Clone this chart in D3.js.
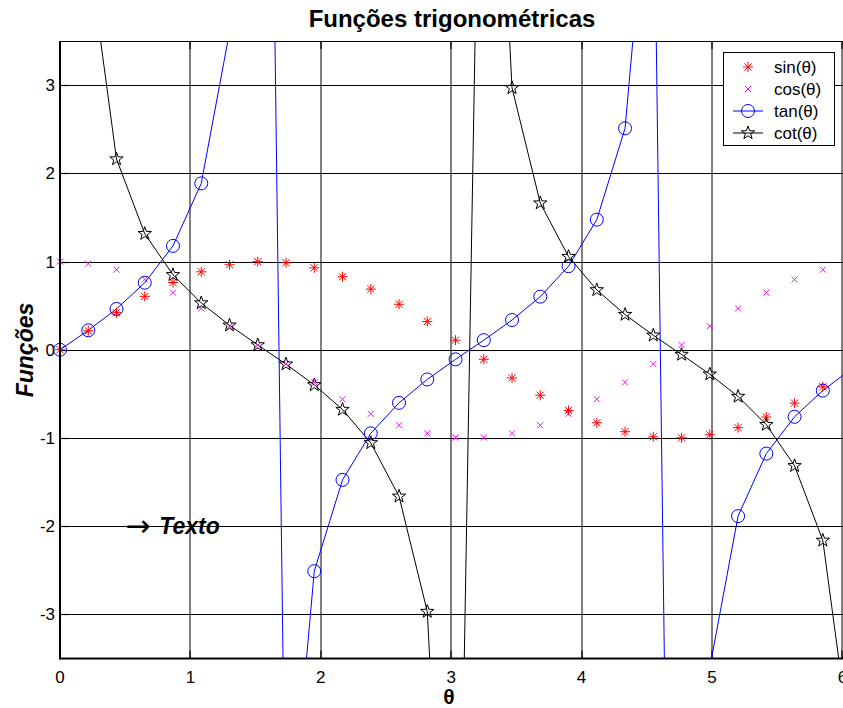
<!DOCTYPE html>
<html>
<head>
<meta charset="utf-8">
<script src="https://cdn.jsdelivr.net/npm/d3@7/dist/d3.min.js"></script>
<style>
  html, body { margin: 0; padding: 0; background: #fff; }
  svg { display: block; font-family: "Liberation Sans", Arial, Helvetica, sans-serif; }
</style>
</head>
<body>
<svg id="chart" width="843" height="708"></svg>
<script>
// Sample angles (30 points over one full turn)
const theta = [0, 0.2167, 0.4333, 0.6500, 0.8666, 1.0833, 1.3000, 1.5166, 1.7333, 1.9500,
  2.1666, 2.3833, 2.5999, 2.8166, 3.0333, 3.2499, 3.4666, 3.6832, 3.8999, 4.1166,
  4.3332, 4.5499, 4.7666, 4.9832, 5.1999, 5.4165, 5.6332, 5.8499, 6.0665, 6.2832];

const sinVals = [0, 0.2150, 0.4199, 0.6052, 0.7622, 0.8835, 0.9635, 0.9985, 0.9868, 0.9290,
  0.8277, 0.6877, 0.5156, 0.3193, 0.1081, -0.1081, -0.3193, -0.5156, -0.6877, -0.8277,
  -0.9290, -0.9868, -0.9985, -0.9635, -0.8835, -0.7622, -0.6052, -0.4199, -0.2150, 0];

const cosVals = [1, 0.9766, 0.9076, 0.7961, 0.6474, 0.4684, 0.2675, 0.0541, -0.1617, -0.3701,
  -0.5612, -0.7260, -0.8569, -0.9477, -0.9941, -0.9941, -0.9477, -0.8569, -0.7260, -0.5612,
  -0.3701, -0.1617, 0.0541, 0.2675, 0.4684, 0.6474, 0.7961, 0.9076, 0.9766, 1];

const tanVals = [0, 0.2201, 0.4627, 0.7602, 1.1773, 1.8861, 3.6021, 18.456, -6.103, -2.510,
  -1.4749, -0.9473, -0.6017, -0.3369, -0.1087, 0.1087, 0.3369, 0.6017, 0.9473, 1.4749,
  2.510, 6.103, -18.456, -3.6021, -1.8861, -1.1773, -0.7602, -0.4627, -0.2201, 0];

// cot(0) is infinite (not drawn); the last value is a very large negative number
const cotVals = [null, 4.5423, 2.1614, 1.3155, 0.8494, 0.5302, 0.2776, 0.0542, -0.1638, -0.3984,
  -0.6780, -1.0557, -1.6620, -2.9680, -9.1960, 9.1960, 2.9680, 1.6620, 1.0557, 0.6780,
  0.3984, 0.1638, -0.0542, -0.2776, -0.5302, -0.8494, -1.3155, -2.1614, -4.5423, -10000];

const xTicks = [0, 1, 2, 3, 4, 5, 6];
const yTicks = [-3, -2, -1, 0, 1, 2, 3];
const legendLabels = ["sin(\u03b8)", "cos(\u03b8)", "tan(\u03b8)", "cot(\u03b8)"];

const svg = d3.select("#chart");

const x = d3.scaleLinear().domain([0, 6]).range([60, 842.4]);
const y = d3.scaleLinear().domain([-3.5, 3.5]).range([658.5, 41]);
const [x0, x1] = [x(0), 845];
const [yTop, yBot] = [y(3.5), y(-3.5)];

svg.append("defs").append("clipPath").attr("id", "plotClip")
  .append("rect").attr("x", x0).attr("y", yTop).attr("width", x1 - x0).attr("height", yBot - yTop);

// Grid
const grid = svg.append("g");
grid.selectAll(".gx").data(xTicks.slice(1)).join("line")
  .attr("x1", d => Math.round(x(d))).attr("x2", d => Math.round(x(d)))
  .attr("y1", yTop).attr("y2", yBot)
  .attr("stroke", "#000").attr("stroke-width", 1);
grid.selectAll(".gy").data(yTicks).join("line")
  .attr("x1", x0).attr("x2", x1)
  .attr("y1", d => Math.round(y(d)) + 0.5).attr("y2", d => Math.round(y(d)) + 0.5)
  .attr("stroke", "#000").attr("stroke-width", 1);

// Tick marks (inward) on bottom, top and left
const ticks = svg.append("g").attr("stroke", "#000").attr("stroke-width", 1.2);
xTicks.forEach(d => {
  ticks.append("line").attr("x1", Math.round(x(d))).attr("x2", Math.round(x(d)))
    .attr("y1", yBot).attr("y2", yBot - 8);
  ticks.append("line").attr("x1", Math.round(x(d))).attr("x2", Math.round(x(d)))
    .attr("y1", yTop).attr("y2", yTop + 8);
});
yTicks.forEach(d => {
  ticks.append("line").attr("x1", x0).attr("x2", x0 + 8)
    .attr("y1", Math.round(y(d)) + 0.5).attr("y2", Math.round(y(d)) + 0.5);
});

// Lines for tan and cot
const lineGen = d3.line()
  .defined(d => d[1] !== null)
  .x(d => x(d[0])).y(d => y(d[1]));

const plot = svg.append("g").attr("clip-path", "url(#plotClip)");
plot.append("path").datum(theta.map((t, i) => [t, tanVals[i]]))
  .attr("d", lineGen).attr("fill", "none").attr("stroke", "#00f").attr("stroke-width", 1);
plot.append("path").datum(theta.map((t, i) => [t, cotVals[i]]))
  .attr("d", lineGen).attr("fill", "none").attr("stroke", "#000").attr("stroke-width", 1);

// Marker shapes
function asteriskPath(r) {
  const a = r * 0.72;
  return `M${-r},0H${r}M0,${-r}V${r}M${-a},${-a}L${a},${a}M${-a},${a}L${a},${-a}`;
}
function crossPath(r) {
  return `M${-r},${-r}L${r},${r}M${-r},${r}L${r},${-r}`;
}
function starPath(R) {
  const r = R * 0.4;
  const pts = [];
  for (let k = 0; k < 10; k++) {
    const ang = -Math.PI / 2 + k * Math.PI / 5;
    const rr = k % 2 === 0 ? R : r;
    pts.push([rr * Math.cos(ang), rr * Math.sin(ang)]);
  }
  return "M" + pts.map(p => p[0].toFixed(2) + "," + p[1].toFixed(2)).join("L") + "Z";
}

const markerSpecs = [
  { vals: sinVals, path: asteriskPath(5), color: "#f00" },
  { vals: cosVals, path: crossPath(3), color: "#f0f" },
  { vals: tanVals, path: "M6.5,0A6.5,6.5 0 1,1 -6.5,0A6.5,6.5 0 1,1 6.5,0Z", color: "#00f" },
  { vals: cotVals, path: starPath(7), color: "#000" }
];

markerSpecs.forEach(spec => {
  const pts = theta.map((t, i) => [t, spec.vals[i]])
    .filter(d => d[1] !== null && d[0] <= 6 && d[1] >= -3.5 && d[1] <= 3.5);
  svg.append("g").selectAll("path").data(pts).join("path")
    .attr("transform", d => `translate(${x(d[0])},${y(d[1])})`)
    .attr("d", spec.path)
    .attr("fill", "none").attr("stroke", spec.color).attr("stroke-width", 1);
});

// Axis lines (top, left, bottom)
svg.append("path")
  .attr("d", `M${x1},${yTop + 0.5}H${x0}V${yBot}H${x1}`)
  .attr("fill", "none").attr("stroke", "#000").attr("stroke-width", 1);
svg.append("line").attr("x1", x0).attr("x2", x0).attr("y1", yTop).attr("y2", yBot + 1)
  .attr("stroke", "#000").attr("stroke-width", 2);
svg.append("line").attr("x1", x0 - 1).attr("x2", x1).attr("y1", yBot).attr("y2", yBot)
  .attr("stroke", "#000").attr("stroke-width", 2);

// Tick labels
svg.append("g").selectAll("text").data(xTicks).join("text")
  .attr("x", d => x(d)).attr("y", 683)
  .attr("text-anchor", "middle").attr("font-size", 17).text(d => d);
svg.append("g").selectAll("text").data(yTicks).join("text")
  .attr("x", 55).attr("y", d => y(d) + 6)
  .attr("text-anchor", "end").attr("font-size", 17).text(d => d);

// Title and axis labels
svg.append("text").attr("x", 452).attr("y", 27)
  .attr("text-anchor", "middle").attr("font-size", 24).attr("font-weight", "bold")
  .text("Funções trigonométricas");
svg.append("text").attr("x", 449).attr("y", 704)
  .attr("text-anchor", "middle").attr("font-size", 21).attr("font-weight", "bold")
  .text("\u03b8");
svg.append("text").attr("transform", "translate(33,350) rotate(-90)")
  .attr("text-anchor", "middle").attr("font-size", 23).attr("font-weight", "bold")
  .attr("font-style", "italic").text("Funções");

// Annotation
const ann = svg.append("text").attr("x", x(0.5)).attr("y", y(-2) + 8).attr("font-size", 23);
ann.append("tspan").attr("font-family", "DejaVu Sans")
  .attr("font-size", 30).attr("dy", 2).text("\u2192");
ann.append("tspan").attr("dx", 9).attr("dy", -2).attr("font-weight", "bold")
  .attr("font-style", "italic").text("Texto");

// Legend
const lg = svg.append("g");
lg.append("rect").attr("x", 723.5).attr("y", 52.5).attr("width", 111).attr("height", 93)
  .attr("fill", "#fff").attr("stroke", "#000").attr("stroke-width", 1);
const legendY = [67, 89, 111, 133];
markerSpecs.forEach((spec, i) => {
  const ly = legendY[i];
  if (i >= 2) {
    lg.append("line").attr("x1", 733).attr("x2", 763).attr("y1", ly).attr("y2", ly)
      .attr("stroke", spec.color).attr("stroke-width", 1);
  }
  lg.append("path").attr("transform", `translate(748,${ly})`).attr("d", spec.path)
    .attr("fill", "none").attr("stroke", spec.color).attr("stroke-width", 1);
  lg.append("text").attr("x", 774).attr("y", ly + 6).attr("font-size", 17).text(legendLabels[i]);
});
</script>
</body>
</html>
